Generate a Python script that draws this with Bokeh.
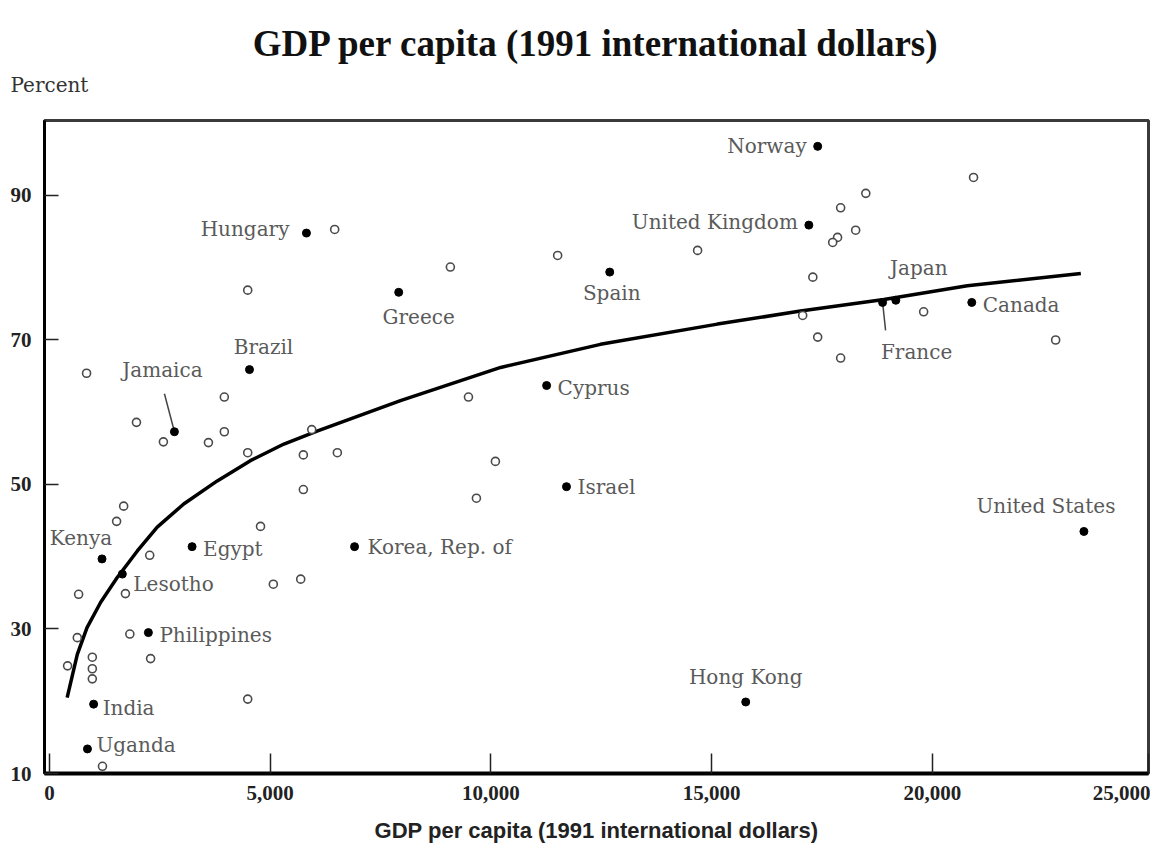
from bokeh.plotting import figure
from bokeh.models import ColumnDataSource, Range1d, FixedTicker, Title
from bokeh.core.properties import value
from bokeh.embed import file_html
from bokeh.resources import INLINE

# ---------------- data ----------------
countries = ["Norway", "United Kingdom", "Hungary", "Greece", "Spain", "Japan", "France",
             "Canada", "Brazil", "Jamaica", "Cyprus", "Israel", "Kenya", "Egypt",
             "Korea, Rep. of", "Lesotho", "Philippines", "India", "Uganda", "Hong Kong",
             "United States"]
country_gdp = [17400, 17200, 5820, 7910, 12690, 19170, 18870,
               20890, 4530, 2830, 11260, 11710, 1190, 3230,
               6910, 1650, 2240, 1000, 860, 15770,
               23430]
country_pct = [96.8, 85.9, 84.8, 76.6, 79.4, 75.5, 75.2,
               75.2, 65.9, 57.3, 63.7, 49.7, 39.7, 41.4,
               41.4, 37.6, 29.5, 19.6, 13.4, 19.9,
               43.5]

other_gdp = [6460, 4490, 840, 1970, 2580, 3960, 3960, 3600, 4490, 5750, 6520, 5940,
             5750, 1680, 1520, 4780, 2270, 660, 1720, 5070, 5690, 1820, 630, 2290,
             410, 970, 970, 970, 4490, 1200, 9080, 11510, 14680, 9490, 10100, 9670,
             20930, 18490, 17920, 18260, 17850, 17740, 17290, 17060, 17400, 17920,
             19800, 22790]
other_pct = [85.3, 76.9, 65.4, 58.6, 55.9, 62.1, 57.3, 55.8, 54.4, 54.1, 54.4, 57.6,
             49.3, 47.0, 44.9, 44.2, 40.2, 34.8, 34.9, 36.2, 36.9, 29.3, 28.8, 25.9,
             24.9, 26.1, 24.5, 23.1, 20.3, 11.0, 80.1, 81.7, 82.4, 62.1, 53.2, 48.1,
             92.5, 90.3, 88.3, 85.2, 84.2, 83.5, 78.7, 73.4, 70.4, 67.5,
             73.9, 70.0]

curve_gdp = [400, 630, 850, 1160, 1530, 1990, 2440, 3040, 3800, 4550, 5310, 6060,
             7950, 10220, 12480, 15130, 17010, 18900, 20790, 23360]
curve_pct = [20.5, 26.5, 30.2, 33.7, 37.1, 40.8, 44.1, 47.3, 50.5, 53.3, 55.6, 57.4,
             61.6, 66.2, 69.4, 72.2, 74.0, 75.6, 77.5, 79.2]

x_tick_labels = ["0", "5,000", "10,000", "15,000", "20,000", "25,000"]
y_ticks = [10, 30, 50, 70, 90]

title_text = "GDP per capita (1991 international dollars)"
y_title = "Percent"
x_title = "GDP per capita (1991 international dollars)"

# ---------------- layout / style ----------------
W, H = 1150, 845
BL, BR, BT, BB = 44, 2, 120, 72
X0, X1 = -113, 24893
Y0, Y1 = 10, 100.38
FW, FH = W - BL - BR, H - BT - BB
px_x = FW / (X1 - X0)
px_y = FH / (Y1 - Y0)
x_ticks = [0, 5000, 10000, 15000, 20000, X1 - 3]   # last tick sits on the right edge

# label placement: (align, dx px, dy px)  dy positive = down
label_style = {
    "Norway": ("right", -11, 0),
    "United Kingdom": ("right", -11, -3),
    "Hungary": ("right", -17, -4),
    "Greece": ("center", 20, 25),
    "Spain": ("center", 2, 21),
    "Japan": ("center", 23, -32),
    "France": ("center", 34, 50),
    "Canada": ("left", 11, 3),
    "Brazil": ("center", 14, -23),
    "Jamaica": ("center", -12, -62),
    "Cyprus": ("left", 11, 2),
    "Israel": ("left", 11, 0),
    "Kenya": ("center", -21, -21),
    "Egypt": ("left", 11, 2),
    "Korea, Rep. of": ("left", 13, 0),
    "Lesotho": ("left", 11, 10),
    "Philippines": ("left", 11, 2),
    "India": ("left", 9, 4),
    "Uganda": ("left", 9, -4),
    "Hong Kong": ("center", 0, -25),
    "United States": ("center", -38, -25),
}
leaders = {"Jamaica": (-10, -38), "France": (3, 28)}

p = figure(width=W, height=H, output_backend="svg", toolbar_location=None, title=None,
           x_range=Range1d(X0, X1), y_range=Range1d(Y0, Y1),
           min_border_left=BL, min_border_right=BR, min_border_top=BT, min_border_bottom=BB)
p.background_fill_color = "white"
p.border_fill_color = "white"
p.outline_line_color = "#3a3a3a"
p.outline_line_width = 3
p.xgrid.visible = False
p.ygrid.visible = False

# axes
p.xaxis.ticker = FixedTicker(ticks=x_ticks)
p.xaxis.major_label_overrides = dict(zip(x_ticks, x_tick_labels))
p.yaxis.ticker = FixedTicker(ticks=y_ticks)
for ax in (p.xaxis, p.yaxis):
    ax.axis_line_color = "black"
    ax.major_tick_out = 0
    ax.major_tick_line_color = "#222222"
    ax.major_tick_line_width = 1.5
    ax.minor_tick_line_color = None
    ax.major_label_text_font = "Liberation Serif"
    ax.major_label_text_font_style = "bold"
    ax.major_label_text_font_size = "21px"
    ax.major_label_text_color = "#222222"
p.xaxis.axis_line_width = 4
p.yaxis.axis_line_width = 3
p.xaxis.major_tick_in = 20
p.yaxis.major_tick_in = 14
p.yaxis.major_label_standoff = 13
p.xaxis.major_label_standoff = 12
p.xaxis.axis_label = x_title
p.xaxis.axis_label_text_font = "Liberation Sans"
p.xaxis.axis_label_text_font_style = "bold"
p.xaxis.axis_label_text_font_size = "22px"
p.xaxis.axis_label_text_color = "#222222"
p.xaxis.axis_label_standoff = 15

# titles (first added sits next to the frame)
p.add_layout(Title(text=y_title, align="left", vertical_align="bottom", offset=-34, standoff=47,
                   text_font="DejaVu Serif", text_font_size="20px",
                   text_font_style="normal", text_color="#333333"), "above")
p.add_layout(Title(text=title_text, align="center", vertical_align="bottom", standoff=-33,
                   text_font="Liberation Serif", text_font_size="37px",
                   text_font_style="bold", text_color="#111111"), "above")

# curve
p.line(curve_gdp, curve_pct, line_color="black", line_width=3.5)

# open (unlabeled) points
p.scatter(other_gdp, other_pct, marker="circle", size=8, fill_color="white",
          line_color="#4a4a4a", line_width=1.6)

# leader lines
lx0, ly0, lx1, ly1 = [], [], [], []
for name, (dx, dy) in leaders.items():
    i = countries.index(name)
    lx0.append(country_gdp[i]); ly0.append(country_pct[i])
    lx1.append(country_gdp[i] + dx / px_x); ly1.append(country_pct[i] - dy / px_y)
p.segment(lx0, ly0, lx1, ly1, line_color="#444444", line_width=1.5)

# labeled points
p.scatter(country_gdp, country_pct, marker="circle", size=8, fill_color="black",
          line_color="black")

for align in ("left", "right", "center"):
    xs, ys, ts, xo, yo = [], [], [], [], []
    for name, gx, gy in zip(countries, country_gdp, country_pct):
        a, dx, dy = label_style[name]
        if a != align:
            continue
        xs.append(gx); ys.append(gy); ts.append(name); xo.append(dx); yo.append(dy)
    src = ColumnDataSource(dict(x=xs, y=ys, t=ts, xo=xo, yo=yo))
    p.text(x="x", y="y", text="t", x_offset="xo", y_offset="yo", source=src,
           text_align=align, text_baseline="middle",
           text_font=value("DejaVu Serif"), text_font_size="20px", text_color="#5a5a5a")

open("out.html", "w").write(file_html(p, INLINE))
